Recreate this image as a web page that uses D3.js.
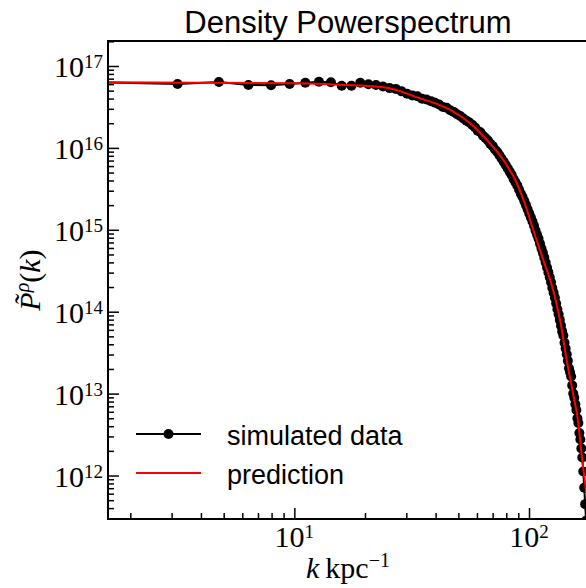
<!DOCTYPE html>
<html>
<head>
<meta charset="utf-8">
<script src="https://cdn.jsdelivr.net/npm/d3@7"></script>
<style>
  body { margin: 0; background: #fff; }
  svg { display: block; }
  .sans { font-family: "Liberation Sans", Arial, sans-serif; }
  .serif { font-family: "Liberation Serif", "Times New Roman", serif; }
</style>
</head>
<body>
<div id="chart"></div>
<script>
// wavenumbers of the simulated spectrum (k in 1/kpc)
const kValues = [
  1.59, 3.18, 4.77, 6.37, 7.96, 9.55, 11.14, 12.73, 14.32, 15.92,
  17.51, 19.10, 20.69, 22.28, 23.87, 25.46, 27.06, 28.65, 30.24, 31.83,
  33.42, 35.01, 36.60, 38.20, 39.79, 41.38, 42.97, 44.56, 46.15, 47.75,
  49.34, 50.93, 52.52, 54.11, 55.70, 57.30, 58.89, 60.48, 62.07, 63.66,
  65.25, 66.84, 68.43, 70.03, 71.62, 73.21, 74.80, 76.39, 77.98, 79.58,
  81.17, 82.76, 84.35, 85.94, 87.53, 89.13, 90.72, 92.31, 93.90, 95.49,
  97.08, 98.67, 100.27, 101.86, 103.45, 105.04, 106.63, 108.23, 109.82, 111.41,
  113.00, 114.59, 116.18, 117.77, 119.37, 120.96, 122.55, 124.14, 125.73, 127.32,
  128.92, 130.51, 132.10, 133.69, 135.28, 136.87, 138.46, 140.06, 141.65, 143.24,
  144.83, 146.42, 148.01, 149.61, 151.20, 152.79, 154.38, 155.97, 157.56, 159.15,
  160.75, 162.34, 163.93, 165.52, 167.11, 168.70, 170.30, 171.89, 173.48, 175.07
];
// simulated density power spectrum
const simulatedPower = [
  6.31e16, 6.03e16, 6.38e16, 5.86e16, 5.81e16, 6.03e16, 6.25e16, 6.43e16, 6.32e16, 5.74e16,
  5.74e16, 6.25e16, 5.98e16, 5.86e16, 5.62e16, 5.37e16, 5.25e16, 4.90e16, 4.57e16, 4.37e16,
  4.27e16, 3.98e16, 3.89e16, 3.72e16, 3.55e16, 3.39e16, 3.16e16, 3.09e16, 2.88e16, 2.75e16,
  2.57e16, 2.45e16, 2.29e16, 2.14e16, 2.04e16, 1.91e16, 1.78e16, 1.62e16, 1.55e16, 1.41e16,
  1.32e16, 1.23e16, 1.12e16, 1.05e16, 9.55e15, 8.91e15, 8.13e15, 7.41e15, 6.76e15, 6.17e15,
  5.62e15, 5.13e15, 4.68e15, 4.17e15, 3.80e15, 3.47e15, 3.09e15, 2.75e15, 2.51e15, 2.24e15,
  2.00e15, 1.78e15, 1.58e15, 1.41e15, 1.26e15, 1.12e15, 9.77e14, 8.71e14, 7.76e14, 6.76e14,
  5.89e14, 5.25e14, 4.57e14, 3.98e14, 3.47e14, 3.02e14, 2.63e14, 2.29e14, 1.95e14, 1.70e14,
  1.48e14, 1.26e14, 1.07e14, 9.33e13, 7.94e13, 6.76e13, 5.75e13, 5.13e13, 4.17e13, 3.55e13,
  3.02e13, 2.51e13, 2.04e13, 1.82e13, 1.62e13, 1.26e13, 1.00e13, 8.91e12, 7.41e12, 6.31e12,
  5.01e12, 4.37e12, 3.31e12, 2.75e12, 2.14e12, 1.66e12, 1.12e12, 7.08e11, 4.47e11, 2.82e11
];
// predicted spectrum (red curve)
const predictionK = [
  1.59, 10, 14.2, 22.1, 24.8, 34.3, 40.5, 47.6, 56.1, 66.1, 77.8, 88.7,
  94.8, 104.3, 115, 125, 135.6, 144.8, 154.5, 162.3, 167.9, 173.4, 175.07
];
const predictionPower = [
  6.31e16, 6.17e16, 5.98e16, 5.62e16, 5.43e16, 4.04e16, 3.44e16, 2.77e16, 2.00e16, 1.25e16, 7.11e15, 3.70e15,
  2.31e15, 9.95e14, 4.28e14, 2.12e14, 7.93e13, 2.57e13, 9.62e12, 4.34e12, 1.70e12, 8.13e11, 6.3e11
];
// major tick exponents
const yTickExponents = [12, 13, 14, 15, 16, 17];
const xTickExponents = [1, 2];
const legendLabels = ['simulated data', 'prediction'];

const width = 586, height = 588;
const margin = { top: 41, right: -2, bottom: 69, left: 108 };
const plotW = width - margin.left - margin.right;
const plotH = height - margin.top - margin.bottom;

const svg = d3.select('#chart').append('svg')
  .attr('width', width)
  .attr('height', height);

const x = d3.scaleLog().domain([1.607, 178.4]).range([0, plotW]);
const y = d3.scaleLog().domain([Math.pow(10, 11.469), Math.pow(10, 17.305)]).range([plotH, 0]);

const g = svg.append('g').attr('transform', `translate(${margin.left},${margin.top})`);

g.append('clipPath').attr('id', 'plotclip')
  .append('rect').attr('width', plotW).attr('height', plotH);

const plot = g.append('g').attr('clip-path', 'url(#plotclip)');

const simData = kValues.map((k, i) => ({ k: k, p: simulatedPower[i] }));
const predData = predictionK.map((k, i) => ({ k: k, p: predictionPower[i] }));

const line = d3.line().x(d => x(d.k)).y(d => y(d.p));

// simulated data: black line with dots
plot.append('path')
  .datum(simData)
  .attr('fill', 'none')
  .attr('stroke', '#000')
  .attr('stroke-width', 2)
  .attr('d', line);

plot.selectAll('circle.sim')
  .data(simData.filter(d => d.k >= x.domain()[0]))
  .join('circle')
  .attr('class', 'sim')
  .attr('cx', d => x(d.k))
  .attr('cy', d => y(d.p))
  .attr('r', 5)
  .attr('fill', '#000');

// prediction: red line on top
plot.append('path')
  .datum(predData)
  .attr('fill', 'none')
  .attr('stroke', '#ff0000')
  .attr('stroke-width', 2)
  .attr('d', line.curve(d3.curveMonotoneX));

// minor tick values for the log axes
const yMinor = [];
for (let e = 11; e <= 17; e++)
  for (let m = 2; m <= 9; m++) yMinor.push(m * Math.pow(10, e));
const xMinor = [];
for (let e = 0; e <= 2; e++)
  for (let m = 2; m <= 9; m++) xMinor.push(m * Math.pow(10, e));

const inDomain = (scale, v) => v >= scale.domain()[0] && v <= scale.domain()[1];

// left axis, ticks pointing inwards
g.append('g')
  .call(d3.axisLeft(y).tickValues(yMinor.filter(v => inDomain(y, v))).tickSize(-6).tickFormat(''))
  .call(a => a.select('.domain').remove());
g.append('g')
  .call(d3.axisLeft(y).tickValues(yTickExponents.map(e => Math.pow(10, e))).tickSize(-11).tickFormat(''))
  .call(a => a.select('.domain').remove());

// bottom axis
g.append('g')
  .attr('transform', `translate(0,${plotH})`)
  .call(d3.axisBottom(x).tickValues(xMinor.filter(v => inDomain(x, v))).tickSize(-6).tickFormat(''))
  .call(a => a.select('.domain').remove());
g.append('g')
  .attr('transform', `translate(0,${plotH})`)
  .call(d3.axisBottom(x).tickValues(xTickExponents.map(e => Math.pow(10, e))).tickSize(-11).tickFormat(''))
  .call(a => a.select('.domain').remove());

g.selectAll('.tick line').attr('stroke', '#000').attr('stroke-width', 1.5);

// frame
g.append('rect')
  .attr('width', plotW).attr('height', plotH)
  .attr('fill', 'none').attr('stroke', '#000').attr('stroke-width', 2);

// tick labels as 10^n
yTickExponents.forEach(e => {
  const t = g.append('text').attr('class', 'serif')
    .attr('x', -5).attr('y', y(Math.pow(10, e)) + 11)
    .attr('text-anchor', 'end').attr('fill', '#000');
  t.append('tspan').attr('font-size', 30).text('10');
  t.append('tspan').attr('font-size', 19).attr('dy', -9).text(e);
});
xTickExponents.forEach(e => {
  const t = g.append('text').attr('class', 'serif')
    .attr('x', x(Math.pow(10, e))).attr('y', plotH + 28)
    .attr('text-anchor', 'middle').attr('fill', '#000');
  t.append('tspan').attr('font-size', 30).text('10');
  t.append('tspan').attr('font-size', 19).attr('dy', -9).text(e);
});

// title
svg.append('text').attr('class', 'sans')
  .attr('x', margin.left + plotW / 2).attr('y', 33)
  .attr('text-anchor', 'middle').attr('font-size', 31).attr('fill', '#000')
  .text('Density Powerspectrum');

// x label: k kpc^-1
const xl = svg.append('text').attr('class', 'serif')
  .attr('x', margin.left + plotW / 2).attr('y', 578)
  .attr('text-anchor', 'middle').attr('font-size', 30).attr('fill', '#000');
xl.append('tspan').attr('font-style', 'italic').text('k');
xl.append('tspan').text('\u2009kpc');
xl.append('tspan').attr('font-size', 20).attr('dy', -11).text('\u22121');

// y label: P~^rho(k)
const yl = svg.append('text').attr('class', 'serif')
  .attr('transform', `translate(40,${margin.top + plotH / 2}) rotate(-90)`)
  .attr('text-anchor', 'middle').attr('font-size', 30).attr('fill', '#000');
yl.append('tspan').attr('font-style', 'italic').text('P\u0303');
yl.append('tspan').attr('font-style', 'italic').attr('font-size', 20).attr('dy', -11).text('\u03c1');
yl.append('tspan').attr('dy', 11).text('(');
yl.append('tspan').attr('font-style', 'italic').text('k');
yl.append('tspan').text(')');

// legend, lower left, no frame
const legendY = [434, 473];
const leg = g.append('g').attr('transform', `translate(${-margin.left},${-margin.top})`);
legendLabels.forEach((label, i) => {
  const row = leg.append('g');
  row.append('line')
    .attr('x1', 136).attr('x2', 201)
    .attr('y1', legendY[i]).attr('y2', legendY[i])
    .attr('stroke', i === 0 ? '#000' : '#ff0000').attr('stroke-width', 2);
  if (i === 0)
    row.append('circle').attr('cx', 168.5).attr('cy', legendY[i]).attr('r', 5).attr('fill', '#000');
  row.append('text').attr('class', 'sans')
    .attr('x', 227).attr('y', legendY[i] + 10.5)
    .attr('font-size', 27).attr('fill', '#000')
    .text(label);
});
</script>
</body>
</html>
